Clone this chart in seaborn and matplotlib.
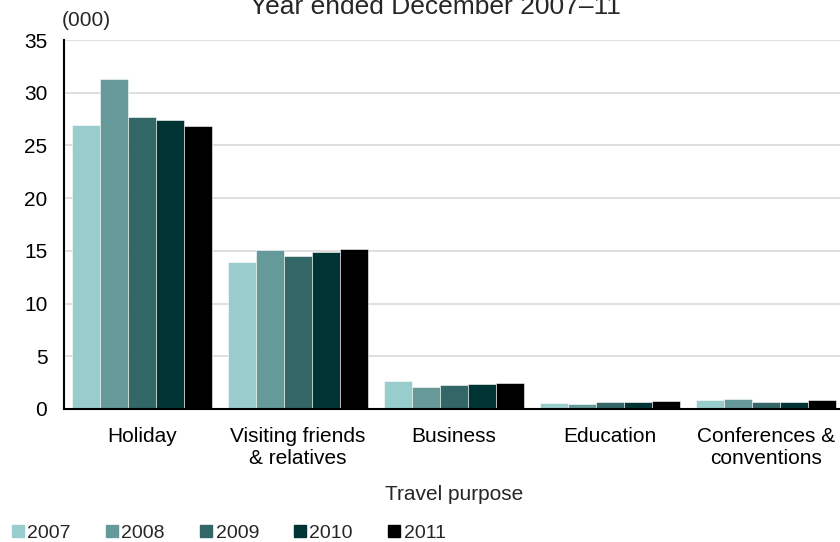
import matplotlib
matplotlib.use("Agg")
import matplotlib.pyplot as plt
from matplotlib.lines import Line2D
import pandas as pd
import seaborn as sns

# data (thousands)
purposes = ["Holiday", "Visiting friends\n& relatives", "Business", "Education",
            "Conferences &\nconventions"]
years = ["2007", "2008", "2009", "2010", "2011"]
v2007 = [26.9, 13.9, 2.7, 0.57, 0.85]
v2008 = [31.3, 15.1, 2.1, 0.50, 0.95]
v2009 = [27.7, 14.55, 2.3, 0.62, 0.70]
v2010 = [27.4, 14.9, 2.4, 0.70, 0.70]
v2011 = [26.8, 15.2, 2.5, 0.76, 0.82]
colors = ["#99CCCC", "#669999", "#336666", "#003333", "#000000"]

rows = []
for yr, vals in zip(years, [v2007, v2008, v2009, v2010, v2011]):
    for p, v in zip(purposes, vals):
        rows.append({"purpose": p, "year": yr, "value": v})
df = pd.DataFrame(rows)

sns.set_style("white")
plt.rcParams["font.family"] = ["Liberation Sans", "DejaVu Sans"]

fig = plt.figure(figsize=(8.4, 5.42), dpi=100)
ax = fig.add_axes([64 / 840, 133 / 542, 780 / 840, 369 / 542])

sns.barplot(data=df, x="purpose", y="value", hue="year", palette=colors,
            order=purposes, hue_order=years, width=0.9, saturation=1,
            edgecolor="white", linewidth=0.4, legend=False, ax=ax)

ax.set_ylim(0, 35)
ax.set_yticks(range(0, 36, 5))
ax.yaxis.grid(True, color="#d9d9d9", linewidth=1.2)
ax.set_axisbelow(True)
for s in ["top", "right"]:
    ax.spines[s].set_visible(False)
for s in ["left", "bottom"]:
    ax.spines[s].set_color("black")
    ax.spines[s].set_linewidth(1.5)
ax.tick_params(axis="both", length=0, labelsize=15, colors="black")
ax.tick_params(axis="x", pad=13)
ax.tick_params(axis="y", pad=12)
ax.set_xlabel("Travel purpose", fontsize=15, labelpad=12)
ax.set_ylabel("")

fig.text(62 / 840, 1 - 20 / 542, "(000)", fontsize=15, va="center", ha="left")
fig.text(435 / 840, 1 - 14 / 542, "Year ended December 2007\u201311", fontsize=19,
         ha="center", va="baseline")

handles = [Line2D([], [], marker="s", linestyle="none", markersize=8,
                  markerfacecolor=c, markeredgecolor=c) for c in colors]
fig.legend(handles, years, loc="center left", bbox_to_anchor=(-0.009, 9 / 542),
           ncol=5, frameon=False, fontsize=14, handletextpad=0.1,
           columnspacing=1.7, handlelength=0.8)

fig.savefig("out.png", dpi=100)
